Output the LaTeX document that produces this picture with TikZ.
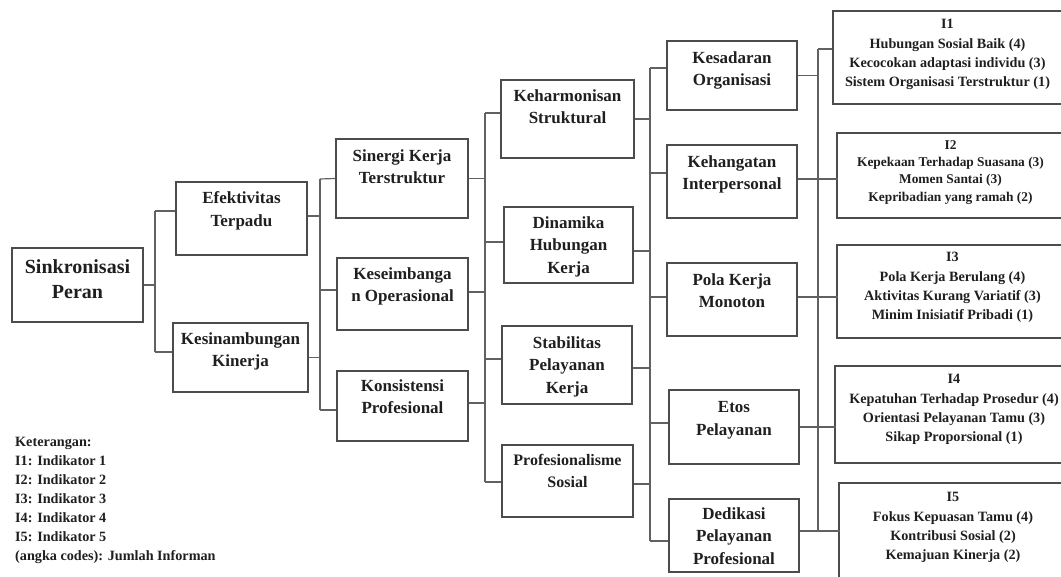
\documentclass[tikz,border=0pt]{standalone}
\usepackage{fontspec}
\setmainfont{Liberation Serif}
\usetikzlibrary{fit}
\newcommand{\bx}[6]{%
  \node[box, fit={#2 #3}] (#1) {};
  \node[#5, anchor=north] (#1t) at ([yshift=-#4pt]#1.north) {#6};}
\begin{document}
\begin{tikzpicture}[x=1pt,y=-1pt,
  box/.style={draw=black!70, line width=1.3pt, inner sep=0pt},
  ln/.style={draw=black!62, line width=1.2pt},
  tA/.style={font=\fontsize{20}{25}\selectfont\bfseries, align=center, inner sep=0pt, text=black!88},
  tB/.style={font=\fontsize{17}{22.5}\selectfont\bfseries, align=center, inner sep=0pt, text=black!88},
  tBs/.style={font=\fontsize{16}{22}\selectfont\bfseries, align=center, inner sep=0pt, text=black!88},
  tC/.style={font=\fontsize{14.2}{19.3}\selectfont\bfseries, align=center, inner sep=0pt, text=black!88},
  tCs/.style={font=\fontsize{13.4}{17.2}\selectfont\bfseries, align=center, inner sep=0pt, text=black!88},
  tL/.style={font=\fontsize{14.2}{19}\selectfont\bfseries, align=left, inner sep=0pt, text=black!88}]
\useasboundingbox (0,0) rectangle (1061,577);

% column 0
\bx{sink}{(12,248)}{(143,322)}{12}{tA}{Sinkronisasi\\Peran}
% column 1
\bx{eff}{(176,182)}{(307,255)}{10}{tB}{Efektivitas\\Terpadu}
\bx{kes}{(173,323)}{(308,392)}{10}{tB}{Kesinambungan\\Kinerja}
% column 2
\bx{sin}{(336,139)}{(468,218)}{11}{tB}{Sinergi Kerja\\Terstruktur}
\bx{kse}{(337,258)}{(468,330)}{10}{tB}{Keseimbanga\\n Operasional}
\bx{kon}{(337,371)}{(468,441)}{9}{tB}{Konsistensi\\Profesional}
% column 3
\bx{kha}{(501,80)}{(634,158)}{10}{tB}{Keharmonisan\\Struktural}
\bx{din}{(504,207)}{(633,283)}{10}{tB}{Dinamika\\Hubungan\\Kerja}
\bx{sta}{(502,326)}{(632,404)}{11}{tB}{Stabilitas\\Pelayanan\\Kerja}
\bx{pro}{(502,445)}{(633,517)}{10}{tBs}{Profesionalisme\\Sosial}
% column 4
\bx{ksd}{(667,41)}{(797,110)}{11}{tB}{Kesadaran\\Organisasi}
\bx{khg}{(667,145)}{(797,218)}{11}{tB}{Kehangatan\\Interpersonal}
\bx{pol}{(667,263)}{(797,336)}{11}{tB}{Pola Kerja\\Monoton}
\bx{eto}{(669,390)}{(799,464)}{12}{tB}{Etos\\Pelayanan}
\bx{ded}{(669,499)}{(799,572)}{9}{tB}{Dedikasi\\Pelayanan\\Profesional}
% column 5
\bx{ia}{(833,11)}{(1062,104)}{9}{tC}{I1\\Hubungan Sosial Baik (4)\\Kecocokan adaptasi individu (3)\\Sistem Organisasi Terstruktur (1)}
\bx{ib}{(837,133)}{(1064,218)}{8}{tCs}{I2\\Kepekaan Terhadap Suasana (3)\\Momen Santai (3)\\Kepribadian yang ramah (2)}
\bx{ic}{(837,245)}{(1068,338)}{8}{tC}{I3\\Pola Kerja Berulang (4)\\Aktivitas Kurang Variatif (3)\\Minim Inisiatif Pribadi (1)}
\bx{id}{(835,366)}{(1073,463)}{9}{tC}{I4\\Kepatuhan Terhadap Prosedur (4)\\Orientasi Pelayanan Tamu (3)\\Sikap Proporsional (1)}
\bx{ie}{(839,483)}{(1067,592)}{10}{tC}{I5\\Fokus Kepuasan Tamu (4)\\Kontribusi Sosial (2)\\Kemajuan Kinerja (2)}

% legend
\node[tL, anchor=north west] (legend) at (15,437) {Keterangan:\\I1: Indikator 1\\I2: Indikator 2\\I3: Indikator 3\\I4: Indikator 4\\I5: Indikator 5\\(angka codes): Jumlah Informan};

% bus coordinates
\coordinate (b0t) at (155,211); \coordinate (b0b) at (155,352);
\coordinate (b1t) at (320,179); \coordinate (b1b) at (320,410);
\coordinate (b2t) at (485,113); \coordinate (b2b) at (485,482);
\coordinate (b3t) at (650,68);  \coordinate (b3b) at (650,541);
\coordinate (b4t) at (818,49);  \coordinate (b4b) at (818,531);
\draw[ln] (b0t) -- (b0b);
\draw[ln] (b1t) -- (b1b);
\draw[ln] (b2t) -- (b2b);
\draw[ln] (b3t) -- (b3b);
\draw[ln] (b4t) -- (b4b);

% level 0 -> 1
\draw[ln] (sink.east) -- ++(12,0);
\draw[ln] (eff.west) ++(0,-7.5) -- (b0t);
\draw[ln] (kes.west) ++(0,-5.5) -- (b0b);
% level 1 -> 2
\draw[ln] (eff.east) ++(0,-2.5) -- ++(13,0);
\draw[ln] (kes.east) -- ++(12,0);
\draw[ln] (sin.west) -- (b1t);
\draw[ln] (kse.west) ++(0,-4) -- ++(-17,0);
\draw[ln] (kon.west) ++(0,4) -- (b1b);
% level 2 -> 3
\draw[ln] (sin.east) -- ++(17,0);
\draw[ln] (kse.east) ++(0,-2) -- ++(17,0);
\draw[ln] (kon.east) ++(0,-3) -- ++(17,0);
\draw[ln] (kha.west) ++(0,-6) -- (b2t);
\draw[ln] (din.west) ++(0,-3) -- ++(-19,0);
\draw[ln] (sta.west) ++(0,-6) -- ++(-17,0);
\draw[ln] (pro.west) ++(0,1) -- (b2b);
% level 3 -> 4
\draw[ln] (kha.east) -- ++(16,0);
\draw[ln] (din.east) ++(0,6) -- ++(17,0);
\draw[ln] (sta.east) ++(0,3) -- ++(18,0);
\draw[ln] (pro.east) ++(0,3) -- ++(17,0);
\draw[ln] (ksd.west) ++(0,-7.5) -- (b3t);
\draw[ln] (khg.west) ++(0,-8.5) -- ++(-17,0);
\draw[ln] (pol.west) ++(0,-2.5) -- ++(-17,0);
\draw[ln] (eto.west) ++(0,-4) -- ++(-19,0);
\draw[ln] (ded.west) ++(0,5.5) -- (b3b);
% level 4 -> 5
\draw[ln] (ksd.east) -- ++(21,0);
\draw[ln] (ia.west) ++(0,-8.5) -- (b4t);
\draw[ln] (khg.east) ++(0,-2.5) -- ++(40,0);
\draw[ln] (pol.east) ++(0,-2.5) -- ++(40,0);
\draw[ln] (eto.east) -- ++(36,0);
\draw[ln] (ded.east) ++(0,-4.5) -- ++(40,0);
\end{tikzpicture}
\end{document}
